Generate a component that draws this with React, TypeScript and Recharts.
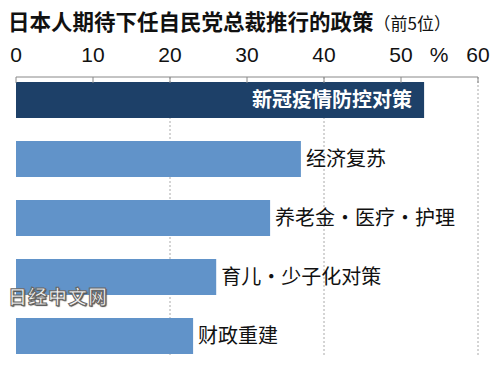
import React from 'react'
import {
  BarChart,
  Bar,
  XAxis,
  YAxis,
  CartesianGrid,
  LabelList,
  Cell
} from 'recharts'

const categories = ['新冠疫情防控对策', '经济复苏', '养老金・医疗・护理', '育儿・少子化对策', '财政重建']
const values = [53, 37, 33, 26, 23]
const xTicks = [0, 10, 20, 30, 40, 50, 60]

const data = categories.map((name, i) => ({ name, value: values[i] }))

const NARROW = "'Liberation Sans Narrow', 'Arial Narrow', 'Liberation Sans', sans-serif"
const CJK = "'Noto Sans CJK SC', 'Noto Sans', sans-serif"

const TopTick = (props: any) => {
  const { x, y, payload } = props
  return (
    <g>
      <line x1={x} x2={x} y1={y} y2={y + 6} stroke='#888' strokeWidth={1} />
      <text
        x={x}
        y={y - 15}
        textAnchor='middle'
        fontFamily={NARROW}
        fontSize={21}
        fill='#111'
      >
        {payload.value}
      </text>
      {payload.value === 50 && (
        <text x={x + 38} y={y - 15} textAnchor='middle' fontFamily={NARROW} fontSize={21} fill='#111'>
          %
        </text>
      )}
    </g>
  )
}

const BarLabel = (props: any) => {
  const { x, y, width, height, value, index } = props
  const cy = y + height / 2
  if (index === 0) {
    return (
      <text
        x={x + width - 12}
        y={cy}
        dy='0.36em'
        textAnchor='end'
        fill='#fff'
        fontWeight='bold'
        fontFamily={CJK}
        fontSize={20}
      >
        {value}
      </text>
    )
  }
  return (
    <text
      x={x + width + 5}
      y={cy}
      dy='0.36em'
      textAnchor='start'
      fill='#111'
      fontFamily={CJK}
      fontSize={20}
    >
      {value}
    </text>
  )
}

export default function App() {
  return (
    <div style={{ position: 'absolute', left: 0, top: 0, width: 500, height: 365, background: '#fff' }}>
      <div
        style={{
          position: 'absolute',
          left: 8,
          top: 5,
          fontFamily: CJK,
          whiteSpace: 'nowrap',
          color: '#111',
          zIndex: 2
        }}
      >
        <span style={{ fontSize: 21.5, fontWeight: 'bold' }}>日本人期待下任自民党总裁推行的政策</span>
        <span style={{ fontSize: 17 }}>（前5位）</span>
      </div>
      <BarChart
        width={500}
        height={365}
        data={data}
        layout='vertical'
        margin={{ top: 37, right: 22, left: 16, bottom: 8 }}
        barSize={36}
      >
        <CartesianGrid
          horizontal={false}
          verticalValues={[20, 40, 60]}
          stroke='#aaa'
          strokeDasharray='2 2'
        />
        <XAxis
          type='number'
          orientation='top'
          domain={[0, 60]}
          ticks={xTicks}
          height={40}
          tickSize={0}
          tickMargin={0}
          tickLine={false}
          axisLine={{ stroke: '#888' }}
          tick={<TopTick />}
        />
        <YAxis
          type='category'
          dataKey='name'
          width={0}
          tick={false}
          tickLine={false}
          axisLine={{ stroke: '#888' }}
          padding={{ top: -7, bottom: -8 }}
        />
        <Bar dataKey='value' isAnimationActive={false}>
          {data.map((d, i) => (
            <Cell key={d.name} fill={i === 0 ? '#1d4068' : '#6193c9'} />
          ))}
          <LabelList dataKey='name' content={<BarLabel />} />
        </Bar>
      </BarChart>
      <div
        style={{
          position: 'absolute',
          left: 8,
          top: 285,
          fontFamily: CJK,
          fontWeight: 'bold',
          fontSize: 19,
          lineHeight: '22px',
          color: '#f2f2f2',
          WebkitTextStroke: '1px #666',
          textShadow: '1px 1px 1px #444',
          letterSpacing: 1,
          zIndex: 3
        }}
      >
        日经中文网
      </div>
    </div>
  )
}
